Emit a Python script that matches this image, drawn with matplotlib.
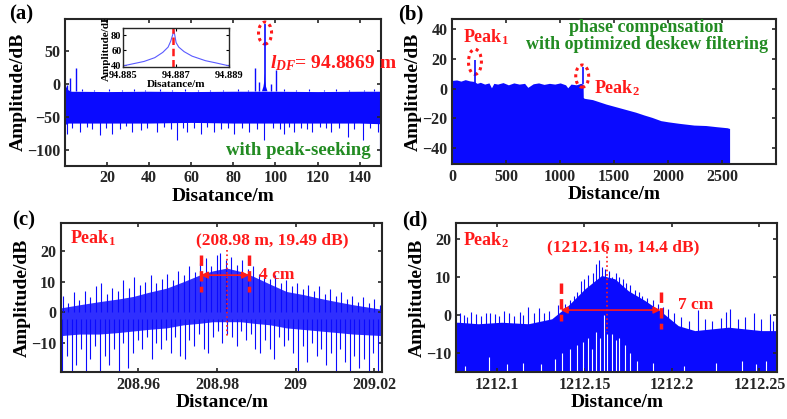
import numpy as np
import matplotlib
matplotlib.use("Agg")
import matplotlib.pyplot as plt
from matplotlib.patches import Ellipse

plt.rcParams['font.family'] = 'Liberation Serif'
plt.rcParams['font.weight'] = 'bold'
plt.rcParams['mathtext.fontset'] = 'custom'
plt.rcParams['mathtext.rm'] = 'Liberation Serif:bold'
plt.rcParams['mathtext.bf'] = 'Liberation Serif:bold'
plt.rcParams['mathtext.it'] = 'Liberation Serif:italic:bold'

BLUE = '#0a0aff'
GREEN = '#228b22'
RED = '#ff1a1a'

# ---------------- (a) full range spectrum ----------------
a_env_x = [0, 0.6, 1.5, 3, 20, 40, 60, 80, 92, 93.6, 96.2, 98, 120, 140, 150]
a_env_top = [-2, -5, -9, -11, -11.5, -11, -11.5, -11, -11, -11, -11, -11, -11.5, -11, -11]
a_env_bot = [-62, -60, -59, -59, -59, -59, -58, -59, -59, -59, -59, -59, -59, -59, -60]
# narrow main lobe around the target
a_lobe_x = [93.6, 94.3, 94.7, 94.887, 95.1, 95.5, 96.2]
a_lobe_y = [-11, -4, 4, 16, 4, -4, -11]
a_peak_x = 94.887
a_peak_y = 90
a_up_x = [1.0, 2.5, 5.1, 90.2, 92.4, 97.8, 100.1]
a_up_y = [-1, 8.5, 24, 24, 3.5, -0.5, 21]
a_tip_x = [8, 14, 21, 27, 33, 38, 45, 51, 57, 63, 69, 75, 82, 87, 104, 110, 116,
           123, 129, 135, 142, 147]
a_tip_y = [-8, -9, -7.5, -9, -8, -9.5, -8, -9, -7.5, -9, -8.5, -9, -8, -9, -8,
           -9, -7.5, -9, -8, -9, -8.5, -8]
a_dn_x = [0.9, 3.5, 7.2, 10.5, 13.0, 16.8, 19.5, 22.4, 26.0, 29.0, 31.9, 35.9, 39.0,
          43.8, 47.0, 50.5, 53.3, 56.0, 58.1, 61.5, 64.4, 67.5, 70.8, 74.0, 77.5,
          80.3, 84.0, 87.5, 91.0, 94.6, 99.0, 102.0, 104.1, 106.5, 108.9, 112.0,
          115.0, 117.6, 121.0, 124.0, 126.4, 130.0, 134.3, 137.5, 141.5, 145.0,
          148.6, 149.9]
a_dn_y = [-75, -66, -72, -65, -68, -77, -66, -75, -68, -64, -72, -70, -66,
          -72, -65, -68, -85, -66, -72, -67, -75, -65, -72, -68, -66,
          -75, -67, -72, -68, -85, -66, -68, -75, -65, -72, -66,
          -68, -72, -65, -67, -72, -66, -80, -68, -85, -67,
          -72, -103]

# inset (zoom on the peak)
in_x = [94.885, 94.8854, 94.8858, 94.8862, 94.8865, 94.8867, 94.8868, 94.88692,
        94.8870, 94.8871, 94.8873, 94.8876, 94.8881, 94.8885, 94.889]
in_y = [39, 42, 45, 50, 57, 64, 72, 86, 70, 64, 58, 52, 46, 43, 39]
in_mark = 94.8869

# ---------------- (b) phase compensated spectrum ----------------
b_x = [0, 40, 80, 120, 160, 200, 230, 260, 300, 340, 363, 385, 420, 470, 520,
       570, 620, 670, 700, 750, 800, 850, 900, 950, 1000, 1050, 1070, 1100,
       1150, 1190, 1212, 1214, 1222, 1300, 1425, 1500, 1625, 1700, 1778,
       1850, 1933, 2000, 2100, 2240, 2350, 2450, 2548, 2570]
b_top = [5.5, 5.8, 5.0, 6.0, 5.2, 4.8, 3.5, 4.2, 3.0, 3.8, 0.5, 3.5, 3.0, 4.0, 2.5,
         3.8, 3.0, 3.5, 0.8, 3.2, 3.8, 2.8, 3.5, 3.0, 3.8, 2.5, 0.5, 3.0,
         2.5, 3.5, 3.0, -6.0, -6.6, -7.5, -10.5, -12.0, -14.5, -16.0, -17.9,
         -19.5, -21.7, -22.5, -23.5, -24.7, -25.0, -25.8, -26.5, -27.0]
b_peak_x = [209, 1212]
b_peak_lo = [2, 3]
b_peak_hi = [19.5, 14.4]

# ---------------- (c) Peak1 detail ----------------
c_x = [208.9403, 208.945, 208.950, 208.955, 208.9587, 208.9625, 208.9672,
       208.9715, 208.9757, 208.9790, 208.9825, 208.9860, 208.9893, 208.9935,
       208.9977, 209.002, 209.0062, 209.0105, 209.0147, 209.0221]
c_top = [1.5, 2.5, 3.5, 4.4, 5.2, 6.5, 7.9, 10.0, 12.2, 13.5, 14.4, 13.3, 11.7,
         9.2, 6.8, 5.8, 4.6, 3.5, 2.5, 1.0]
c_bot = [-7.5, -7.0, -7.0, -6.5, -6.0, -5.5, -5.0, -4.0, -3.5, -3.0, -3.0, -3.0,
         -3.5, -4.0, -5.0, -5.5, -6.0, -6.5, -7.0, -7.5]
c_up_x = [208.9408, 208.9422, 208.9436, 208.9450, 208.9464, 208.9478, 208.9492,
          208.9506, 208.9520, 208.9534, 208.9548, 208.9562, 208.9576, 208.9590,
          208.9604, 208.9618, 208.9632, 208.9646, 208.9660, 208.9674, 208.9688,
          208.9702, 208.9716, 208.9730, 208.9744, 208.9758, 208.9772, 208.9786,
          208.9800, 208.9808, 208.9822, 208.9836, 208.9850, 208.9864, 208.9878,
          208.9892, 208.9906, 208.9920, 208.9934, 208.9948, 208.9962, 208.9976,
          208.9990, 209.0004, 209.0018, 209.0032, 209.0046, 209.0060, 209.0074,
          209.0088, 209.0102, 209.0116, 209.0130, 209.0144, 209.0158, 209.0172,
          209.0186, 209.0200, 209.0214]
c_up_y = [5.5, 3, 6.5, 4, 7, 5, 8.5, 9.5, 6, 8, 7, 10.5, 8, 11.6, 9, 10, 12, 9.5,
          11, 12.5, 10.5, 13.5, 12, 15, 13, 16, 17.5, 15, 18.5, 19.3, 17, 18,
          15.5, 17, 14, 15, 12.5, 13.5, 11, 12, 9.5, 10.5, 8.5, 9.5, 7.5, 9, 7,
          8.5, 6, 7.5, 5.5, 6.5, 4.5, 5.5, 3.5, 5, 3, 4.5, 2.5]
c_dn_x = [208.9406, 208.9418, 208.9430, 208.9442, 208.9454, 208.9466, 208.9478,
          208.9490, 208.9502, 208.9514, 208.9526, 208.9538, 208.9550, 208.9562,
          208.9574, 208.9586, 208.9598, 208.9610, 208.9622, 208.9634, 208.9646,
          208.9658, 208.9670, 208.9682, 208.9694, 208.9706, 208.9718, 208.9730,
          208.9742, 208.9754, 208.9766, 208.9778, 208.9790, 208.9802, 208.9814,
          208.9826, 208.9838, 208.9850, 208.9862, 208.9874, 208.9886, 208.9898,
          208.9910, 208.9922, 208.9934, 208.9946, 208.9958, 208.9970, 208.9982,
          208.9994, 209.0006, 209.0018, 209.0030, 209.0042, 209.0054, 209.0066,
          209.0078, 209.0090, 209.0102, 209.0114, 209.0126, 209.0138, 209.0150,
          209.0162, 209.0174, 209.0186, 209.0198, 209.0210, 209.0218]
c_dn_y = [-19, -14, -19, -17, -12, -19, -15, -11, -19, -14, -17, -12, -19, -10,
          -18, -13, -9, -12, -8, -15, -10, -12, -9, -13, -8, -14, -15, -9, -11,
          -7, -12, -13, -8, -6, -10, -7, -8, -11, -6, -9, -7, -12, -13, -9, -12,
          -15, -8, -11, -9, -13, -19, -11, -16, -10, -14, -12, -17, -13, -19,
          -12, -16, -19, -14, -18, -15, -19, -13, -19, -16]

# ---------------- (d) Peak2 detail ----------------
d_x = [1212.0766, 1212.0779, 1212.0893, 1212.1027, 1212.1179, 1212.1313,
       1212.1407, 1212.1503, 1212.1598, 1212.1674, 1212.1750, 1212.1846,
       1212.1941, 1212.2036, 1212.2131, 1212.2322, 1212.2513, 1212.2602]
d_top = [-1.9, -1.9, -2.3, -1.9, -2.3, -1.0, 2.5, 6.9, 10.4, 9.5, 6.4, 3.8, 0.8,
         -2.8, -4.1, -3.2, -4.1, -4.1]
d_up_x = [1212.0790, 1212.0810, 1212.0830, 1212.0850, 1212.0880, 1212.0910,
          1212.0935, 1212.0960, 1212.0990, 1212.1010, 1212.1040, 1212.1070,
          1212.1100, 1212.1130, 1212.1150, 1212.1180, 1212.1210, 1212.1240,
          1212.1270, 1212.1300, 1212.1350, 1212.1390, 1212.1420, 1212.1440,
          1212.1460, 1212.1480, 1212.1500, 1212.1520, 1212.1550, 1212.1565,
          1212.1585, 1212.1600, 1212.1620, 1212.1640, 1212.1660, 1212.1680,
          1212.1700, 1212.1720, 1212.1740, 1212.1760, 1212.1790, 1212.1810,
          1212.1830, 1212.1860, 1212.1890, 1212.1920, 1212.1950, 1212.1980,
          1212.2010, 1212.2050, 1212.2100, 1212.2150, 1212.2190, 1212.2230,
          1212.2280, 1212.2310, 1212.2330, 1212.2380, 1212.2420, 1212.2470,
          1212.2510, 1212.2560, 1212.2580]
d_up_y = [0.5, 0.0, -0.5, 0.8, 0.3, -0.3, 0.6, 0.5, 0.2, -0.2, 1.0, 0.4, -0.3, 0.8,
          0.1, 2.2, 0.5, 1.8, 0.5, 1.0, 2.5, 2.8, 4.0, 5.0, 6.0, 9.0, 9.5, 10.5,
          11.0, 13.5, 14.4, 12.5, 12.0, 11.5, 10.0, 11.0, 10.0, 9.5, 8.5, 8.0,
          6.5, 6.0, 5.0, 4.5, 4.0, 3.0, 2.0, 1.5, 0.5, -0.5, -1.5, 1.2, -1.0,
          -1.5, -0.8, 0.8, 1.5, -1.0, -0.5, 0.5, -1.0, 0.3, -1.5]
d_gap_x = [1212.0820, 1212.0956, 1212.1060, 1212.1150, 1212.1250, 1212.1330,
           1212.1370, 1212.1420, 1212.1460, 1212.1490, 1212.1520, 1212.1545,
           1212.1565, 1212.1590, 1212.1613, 1212.1630, 1212.1655, 1212.1680,
           1212.1700, 1212.1730, 1212.1760, 1212.1800, 1212.1890, 1212.2070,
           1212.2250, 1212.2400, 1212.2480, 1212.2540]
d_gap_y = [-13.5, -11, -13, -12.5, -13, -11.5, -10, -9, -8, -7, -6, -9, -4.5, -6,
           0, -5, -5, -6.5, -6, -8, -10, -12, -12.5, -13.5, -12.5, -12, -13, -12]


def style_axes(ax):
    for s in ax.spines.values():
        s.set_linewidth(1.5)
        s.set_color('#262626')
    ax.tick_params(direction='in', top=True, right=True, length=3, width=1.2,
                   labelsize=11.5, colors='#262626')
    for lab in ax.get_xticklabels() + ax.get_yticklabels():
        lab.set_fontweight('bold')


fig = plt.figure(figsize=(7.87, 4.19), dpi=100)
axa = fig.add_axes([0.0826, 0.605, 0.4011, 0.3497])
axb = fig.add_axes([0.5747, 0.6086, 0.4113, 0.3461])
axc = fig.add_axes([0.0775, 0.1129, 0.4083, 0.3541])
axd = fig.add_axes([0.5794, 0.1129, 0.4083, 0.3541])

# (a)
axa.fill_between(a_env_x, a_env_bot, a_env_top, color=BLUE, lw=0)
axa.fill(a_lobe_x, a_lobe_y, color=BLUE, lw=0)
axa.vlines(a_up_x, -11, a_up_y, color=BLUE, lw=1.0)
axa.vlines(a_tip_x, -11, a_tip_y, color=BLUE, lw=0.8)
axa.vlines(a_dn_x, -58, a_dn_y, color=BLUE, lw=0.8)
axa.vlines([a_peak_x], -11, [a_peak_y], color=BLUE, lw=1.2)
axa.set_xlim(0, 150)
axa.set_ylim(-123, 98)
axa.set_xticks([20, 40, 60, 80, 100, 120, 140])
axa.set_yticks([-100, -50, 0, 50])
axa.set_xlabel('Disatance/m', fontsize=14, fontweight='bold', labelpad=1)
axa.set_ylabel('Amplitude/dB', fontsize=14, fontweight='bold', labelpad=0)
axa.add_patch(Ellipse((95.05, 76.8), 6.2, 33, fill=False, ec=RED, lw=2.2,
                      ls=(0, (1, 1.2))))
axa.text(97.3, 31.8, r'$l_{DF}$= 94.8869 m', color=RED, fontsize=14,
         fontweight='bold', va='center', ha='left')
axa.text(145.4, -100, 'with peak-seeking', color=GREEN, fontsize=13.5,
         fontweight='bold', va='center', ha='right')
style_axes(axa)

axi = fig.add_axes([0.156, 0.8408, 0.1355, 0.0917])
axi.plot(in_x, in_y, color='#5a5aff', lw=0.8)
axi.axvline(in_mark, color=RED, lw=1.8, ls=(0, (3, 1.5)))
axi.set_xlim(94.885, 94.889)
axi.set_ylim(38, 89)
axi.set_xticks([94.885, 94.887, 94.889])
axi.set_xticklabels(['94.885', '94.887', '94.889'])
axi.set_yticks([40, 60, 80])
axi.set_xlabel('Disatance/m', fontsize=8, fontweight='bold', labelpad=0)
ylab = axi.set_ylabel('Amplitude/dB', fontsize=8, fontweight='bold', labelpad=0)
ylab.set_clip_box(axa.bbox)
ylab.set_clip_on(True)
for s in axi.spines.values():
    s.set_linewidth(1.0)
    s.set_color('#262626')
axi.tick_params(direction='in', top=True, right=True, length=2, labelsize=7.5, pad=1)
axi.tick_params(axis='x', pad=3)

# (b)
axb.fill_between(b_x, -60, b_top, color=BLUE, lw=0)
axb.vlines(b_peak_x, b_peak_lo, b_peak_hi, color=BLUE, lw=1.2)
axb.set_xlim(0, 3000)
axb.set_ylim(-51, 47)
axb.set_xticks([0, 500, 1000, 1500, 2000, 2500])
axb.set_yticks([-40, -20, 0, 20, 40])
axb.set_xlabel('Distance/m', fontsize=14, fontweight='bold', labelpad=1)
axb.set_ylabel('Amplitude/dB', fontsize=14, fontweight='bold', labelpad=0)
axb.add_patch(Ellipse((210, 18.1), 120, 17, fill=False, ec=RED, lw=2.2,
                      ls=(0, (1, 1.2))))
axb.add_patch(Ellipse((1204, 8.4), 120, 15, fill=False, ec=RED, lw=2.2,
                      ls=(0, (1, 1.2))))
axb.text(100, 34.8, r'Peak$_1$', color=RED, fontsize=13, fontweight='bold',
         va='center', ha='left')
axb.text(1318, 0, r'Peak$_2$', color=RED, fontsize=13, fontweight='bold',
         va='center', ha='left')
axb.text(1800, 35.6, 'phase compensation\nwith optimized deskew filtering',
         color=GREEN, fontsize=13, fontweight='bold', ha='center', va='center',
         linespacing=1.0)
style_axes(axb)

# (c)
axc.fill_between(c_x, c_bot, c_top, color=BLUE, lw=0, alpha=0.85)
axc.vlines(c_up_x, 0, c_up_y, color=BLUE, lw=0.8)
axc.vlines(c_dn_x, -2, c_dn_y, color=BLUE, lw=0.8)
axc.set_xlim(208.9403, 209.0221)
axc.set_ylim(-19.2, 28.9)
axc.set_xticks([208.96, 208.98, 209.0, 209.02])
axc.set_xticklabels(['208.96', '208.98', '209', '209.02'])
axc.set_yticks([-10, 0, 10, 20])
axc.set_xlabel('Distance/m', fontsize=14, fontweight='bold', labelpad=1)
axc.set_ylabel('Amplitude/dB', fontsize=14, fontweight='bold', labelpad=0)
axc.text(208.9426, 24, r'Peak$_1$', color=RED, fontsize=13, fontweight='bold',
         va='center', ha='left')
axc.text(208.9941, 23.5, '(208.98 m, 19.49 dB)', color=RED, fontsize=12.5,
         fontweight='bold', va='center', ha='center')
axc.plot([208.9825, 208.9825], [20.2, -7.8], color=RED, lw=1.2, ls=':')
for xv in [208.9759, 208.9882]:
    axc.plot([xv, xv], [18.6, 6.5], color=RED, lw=2.5, ls=(0, (3, 1.5)))
axc.annotate('', xy=(208.9882, 12.1), xytext=(208.9759, 12.1),
             arrowprops=dict(arrowstyle='<|-|>', color=RED, lw=1.2,
                             mutation_scale=10, shrinkA=0, shrinkB=0))
axc.text(208.9906, 12.1, '4 cm', color=RED, fontsize=12.5, fontweight='bold',
         va='center', ha='left')
style_axes(axc)

# (d)
axd.fill_between(d_x, -20, d_top, color=BLUE, lw=0)
axd.vlines(d_up_x, -5, d_up_y, color=BLUE, lw=0.8)
axd.vlines(d_gap_x, -20, d_gap_y, color='white', lw=0.8)
axd.set_xlim(1212.0766, 1212.2602)
axd.set_ylim(-14.9, 24.1)
axd.set_xticks([1212.1, 1212.15, 1212.2, 1212.25])
axd.set_xticklabels(['1212.1', '1212.15', '1212.2', '1212.25'])
axd.set_yticks([-10, 0, 10, 20])
axd.set_xlabel('Distance/m', fontsize=14, fontweight='bold', labelpad=1)
axd.set_ylabel('Amplitude/dB', fontsize=14, fontweight='bold', labelpad=0)
axd.text(1212.0806, 19.7, r'Peak$_2$', color=RED, fontsize=13,
         fontweight='bold', va='center', ha='left')
axd.text(1212.1722, 17.9, '(1212.16 m, 14.4 dB)', color=RED, fontsize=12.5,
         fontweight='bold', va='center', ha='center')
axd.plot([1212.1627, 1212.1627], [16.6, -4.4], color=RED, lw=1.2, ls=':')
axd.plot([1212.1364, 1212.1364], [8.3, -1.6], color=RED, lw=2.5, ls=(0, (3, 1.5)))
axd.plot([1212.1935, 1212.1935], [6.0, -3.7], color=RED, lw=2.5, ls=(0, (3, 1.5)))
axd.annotate('', xy=(1212.1935, 1.3), xytext=(1212.1364, 1.3),
             arrowprops=dict(arrowstyle='<|-|>', color=RED, lw=1.2,
                             mutation_scale=10, shrinkA=0, shrinkB=0))
axd.text(1212.2034, 2.6, '7 cm', color=RED, fontsize=12.5, fontweight='bold',
         va='center', ha='left')
style_axes(axd)

for lbl, x, y in [('(a)', 0.012, 0.99), ('(b)', 0.506, 0.99),
                  ('(c)', 0.015, 0.497), ('(d)', 0.511, 0.497)]:
    fig.text(x, y, lbl, fontsize=15, fontweight='bold', va='top', ha='left')

fig.savefig('out.png', dpi=100)
